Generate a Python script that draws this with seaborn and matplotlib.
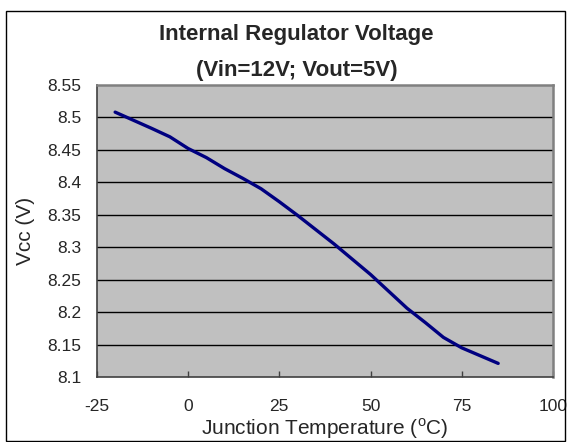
import numpy as np
import pandas as pd
import seaborn as sns
import matplotlib.pyplot as plt
from matplotlib.patches import Rectangle

# data
temp_c = [-20, -10, -5, 0, 5, 10, 15, 20, 25, 30, 40, 50, 60, 65, 70, 75, 85]
vcc_v = [8.508, 8.483, 8.470, 8.452, 8.438, 8.421, 8.406, 8.390, 8.370,
         8.349, 8.305, 8.258, 8.206, 8.184, 8.161, 8.145, 8.121]
x_ticks = [-25, 0, 25, 50, 75, 100]
y_ticks = [8.1, 8.15, 8.2, 8.25, 8.3, 8.35, 8.4, 8.45, 8.5, 8.55]
y_tick_labels = ['8.1', '8.15', '8.2', '8.25', '8.3', '8.35', '8.4', '8.45', '8.5', '8.55']

df = pd.DataFrame({'Temperature': temp_c, 'Vcc': vcc_v})

sns.set_theme(style='ticks')
plt.rcParams['font.family'] = ['Liberation Sans', 'DejaVu Sans']
plt.rcParams['mathtext.fontset'] = 'custom'
plt.rcParams['mathtext.rm'] = 'Liberation Sans'

fig = plt.figure(figsize=(5.7, 4.42), dpi=100)
ax = fig.add_axes([0.170, 0.147, 0.800, 0.661])
ax.set_facecolor('#C0C0C0')

sns.lineplot(ax=ax, data=df, x='Temperature', y='Vcc', color='#000080', linewidth=2.4)

ax.set_xlim(-25, 100)
ax.set_ylim(8.1, 8.55)
ax.set_xticks(x_ticks)
ax.set_xticklabels([str(t) for t in x_ticks], fontsize=12.5)
ax.set_yticks(y_ticks)
ax.set_yticklabels(y_tick_labels, fontsize=12.5)
ax.tick_params(axis='x', direction='in', length=4, width=1, color='#404040', pad=16)
ax.tick_params(axis='y', direction='in', length=0, pad=11)

for y in y_ticks[1:-1]:
    ax.axhline(y, color='black', linewidth=1, zorder=1)

for side in ['top', 'right']:
    ax.spines[side].set_color('#808080')
    ax.spines[side].set_linewidth(1.8)
for side in ['left', 'bottom']:
    ax.spines[side].set_color('#404040')
    ax.spines[side].set_linewidth(1.2)

ax.set_xlabel('Junction Temperature ($^{\\mathrm{o}}$C)', fontsize=15)
ax.xaxis.set_label_coords(0.5, -0.133)
ax.set_ylabel('Vcc (V)', fontsize=15)
ax.yaxis.set_label_coords(-0.135, 0.5)

fig.text(0.52, 0.921, 'Internal Regulator Voltage', ha='center', va='center',
         fontsize=16, fontweight='bold')
fig.text(0.52, 0.840, '(Vin=12V; Vout=5V)', ha='center', va='center',
         fontsize=16, fontweight='bold')

# outer chart border
fig.patches.append(Rectangle((0.011, 0.002), 0.98, 0.973, transform=fig.transFigure,
                             fill=False, edgecolor='black', linewidth=1))

plt.savefig('out.png', dpi=100)
print('finish!')
